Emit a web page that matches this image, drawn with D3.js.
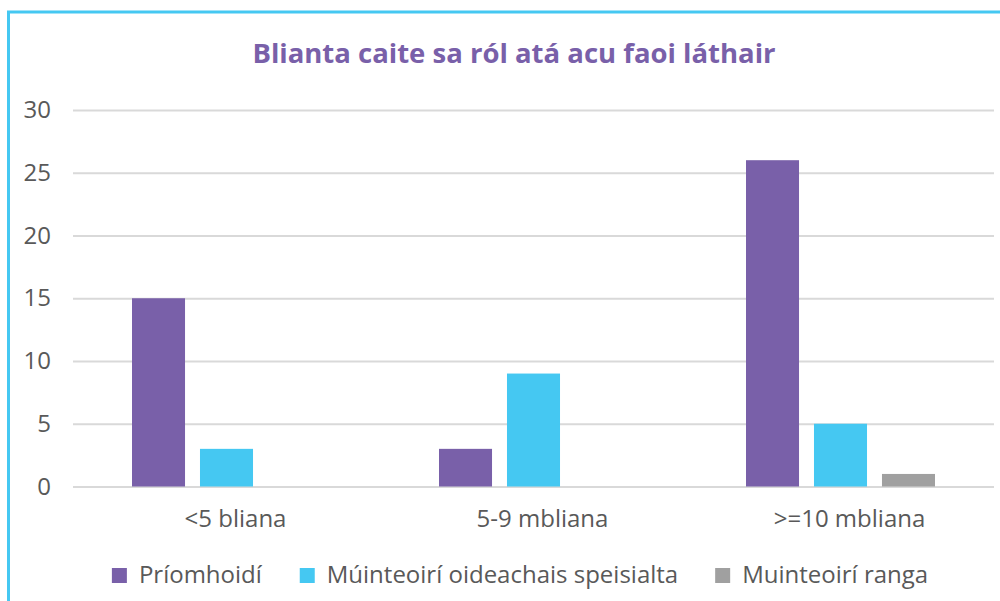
<!DOCTYPE html>
<html>
<head>
<meta charset="utf-8">
<title>Blianta caite sa ról</title>
<script src="https://d3js.org/d3.v7.min.js"></script>
<style>
  body { margin: 0; background: #fff; }
  text { font-family: "Open Sans", Lato, sans-serif; }
</style>
</head>
<body>
<script>
var categories = ["<5 bliana", "5-9 mbliana", ">=10 mbliana"];
var seriesNames = ["Príomhoidí", "Múinteoirí oideachais speisialta", "Muinteoirí ranga"];
var priomhoidi = [15, 3, 26];
var speisialta = [3, 9, 5];
var ranga = [0, 0, 1];
var yTicks = [0, 5, 10, 15, 20, 25, 30];
var colors = ["#7960A9", "#45C8F2", "#A0A0A0"];

var W = 1000, H = 601;
var margin = { top: 110, right: 6, bottom: 114.5, left: 73 };
var width = W - margin.left - margin.right,
    height = H - margin.top - margin.bottom;

var data = categories.map(function(c, i) {
  return { cat: c, values: [priomhoidi[i], speisialta[i], ranga[i]] };
});

var svg = d3.select("body").append("svg")
  .attr("width", W)
  .attr("height", H);

// frame
svg.append("rect")
  .attr("x", 8.5).attr("y", 12)
  .attr("width", W).attr("height", H)
  .attr("fill", "none")
  .attr("stroke", "#45C8F2")
  .attr("stroke-width", 3);

svg.append("text")
  .attr("x", 514).attr("y", 63)
  .attr("text-anchor", "middle")
  .attr("fill", "#7960A9")
  .style("font-size", "27.5px")
  .style("font-weight", "bold")
  .text("Blianta caite sa ról atá acu faoi láthair");

var g = svg.append("g")
  .attr("transform", "translate(" + margin.left + "," + margin.top + ")");

var x0 = d3.scaleBand().domain(categories).range([0, width]);
var groupW = 189;
var x1 = d3.scaleBand().domain(d3.range(3))
  .range([(x0.bandwidth() - groupW) / 2, (x0.bandwidth() + groupW) / 2])
  .paddingInner(0.22);
var y = d3.scaleLinear().domain([0, 30]).range([height, 0]);

var yAxis = d3.axisLeft(y).tickValues(yTicks).tickSize(-width).tickPadding(22);
var yg = g.append("g").call(yAxis);
yg.select(".domain").remove();
yg.selectAll(".tick line").attr("stroke", "#D9D9D9").attr("stroke-width", 2);
yg.selectAll(".tick text")
  .attr("fill", "#595959")
  .style("font-size", "24px");

var groups = g.selectAll(".grp")
  .data(data)
  .enter().append("g")
  .attr("class", "grp")
  .attr("transform", function(d) { return "translate(" + x0(d.cat) + ",0)"; });

groups.selectAll("rect")
  .data(function(d) { return d.values.map(function(v, i) { return { i: i, v: v }; }); })
  .enter().append("rect")
  .attr("x", function(d) { return x1(d.i); })
  .attr("width", x1.bandwidth())
  .attr("y", function(d) { return y(d.v); })
  .attr("height", function(d) { return height - y(d.v); })
  .attr("fill", function(d) { return colors[d.i]; });

var xAxis = d3.axisBottom(x0).tickSize(0).tickPadding(0);
var xg = g.append("g").attr("transform", "translate(0," + height + ")").call(xAxis);
xg.select(".domain").remove();
xg.selectAll(".tick text")
  .attr("fill", "#595959")
  .attr("dy", 0)
  .attr("y", 40)
  .attr("dx", 9)
  .style("font-size", "24px");

// legend
var legend = svg.append("g");
var items = legend.selectAll(".li")
  .data(seriesNames)
  .enter().append("g").attr("class", "li");
items.append("rect")
  .attr("width", 15).attr("height", 15)
  .attr("y", -15)
  .attr("fill", function(d, i) { return colors[i]; });
items.append("text")
  .attr("x", 27)
  .attr("y", 0)
  .attr("fill", "#595959")
  .style("font-size", "24px")
  .text(function(d) { return d; });
var pos = 0;
items.each(function() {
  var w = this.getBBox().width;
  d3.select(this).attr("transform", "translate(" + pos + ",0)");
  pos += w + 37;
});
var total = pos - 37;
legend.attr("transform", "translate(" + (520 - total / 2) + ",583)");
</script>
</body>
</html>
